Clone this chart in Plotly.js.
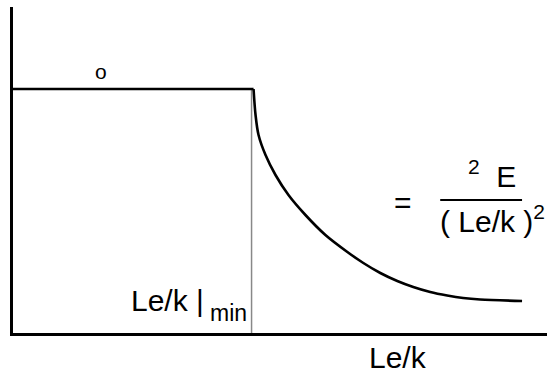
<!DOCTYPE html>
<html>
<head>
<meta charset="utf-8">
<script src="https://cdn.plot.ly/plotly-3.0.1.min.js"></script>
<style>
  html, body { margin: 0; padding: 0; background: #fff; }
  #chart { width: 547px; height: 378px; }
</style>
</head>
<body>
<div id="chart"></div>
<script>
// Plateau (yield stress) up to the limiting slenderness
const plateauX = [0, 241];
const plateauY = [244, 244];

// Euler buckling curve beyond the limiting slenderness
const eulerX = [241, 243, 246, 253, 263, 276, 293, 313, 335, 351, 368, 385, 401, 418, 435, 451, 468, 510];
const eulerY = [244, 218, 198, 178, 158, 138, 118, 98, 81, 70, 60, 52, 46, 41, 37.5, 35, 33.5, 32];

// Marker line at the limiting slenderness
const limitX = [239, 239];
const limitY = [0, 244];

const FONT = 'Liberation Sans, Arial, sans-serif';

const traces = [
  { x: limitX, y: limitY, mode: 'lines', line: { color: '#888888', width: 1.5 }, hoverinfo: 'skip' },
  { x: plateauX, y: plateauY, mode: 'lines', line: { color: '#000', width: 2.6 }, hoverinfo: 'skip' },
  { x: eulerX, y: eulerY, mode: 'lines', line: { color: '#000', width: 2.6, shape: 'spline', smoothing: 0.9 }, hoverinfo: 'skip' }
];

const ann = (text, x, y, size, extra) => Object.assign({
  text: text, x: x, y: y, xref: 'x', yref: 'y', showarrow: false,
  xanchor: 'center', yanchor: 'middle',
  font: { family: FONT, size: size, color: '#000' }
}, extra || {});

const layout = {
  width: 547, height: 378,
  margin: { l: 13, r: 0, t: 7, b: 45 },
  paper_bgcolor: '#fff', plot_bgcolor: '#fff',
  showlegend: false,
  xaxis: {
    range: [0, 535], showline: true, linecolor: '#000', linewidth: 3,
    showgrid: false, zeroline: false, showticklabels: false, ticks: ''
  },
  yaxis: {
    range: [0, 326], showline: true, linecolor: '#000', linewidth: 3,
    showgrid: false, zeroline: false, showticklabels: false, ticks: ''
  },
  shapes: [
    { type: 'line', xref: 'x', yref: 'y', x0: 428, x1: 510, y0: 133, y1: 133,
      line: { color: '#000', width: 2 } }
  ],
  annotations: [
    ann('o', 88, 262, 21),
    ann('Le/k |', 116, 33, 30, { xanchor: 'left' }),
    ann('min', 216, 20, 23),
    ann('=', 391, 131, 30),
    ann('<sup>2</sup>&nbsp;&nbsp;E', 480, 159, 30),
    ann('( Le/k )<sup>2</sup>', 480, 114, 30),
    ann('Le/k', 386, -0.074, 30, { yref: 'paper' })
  ]
};

Plotly.newPlot('chart', traces, layout, { staticPlot: true, displayModeBar: false });
</script>
</body>
</html>
